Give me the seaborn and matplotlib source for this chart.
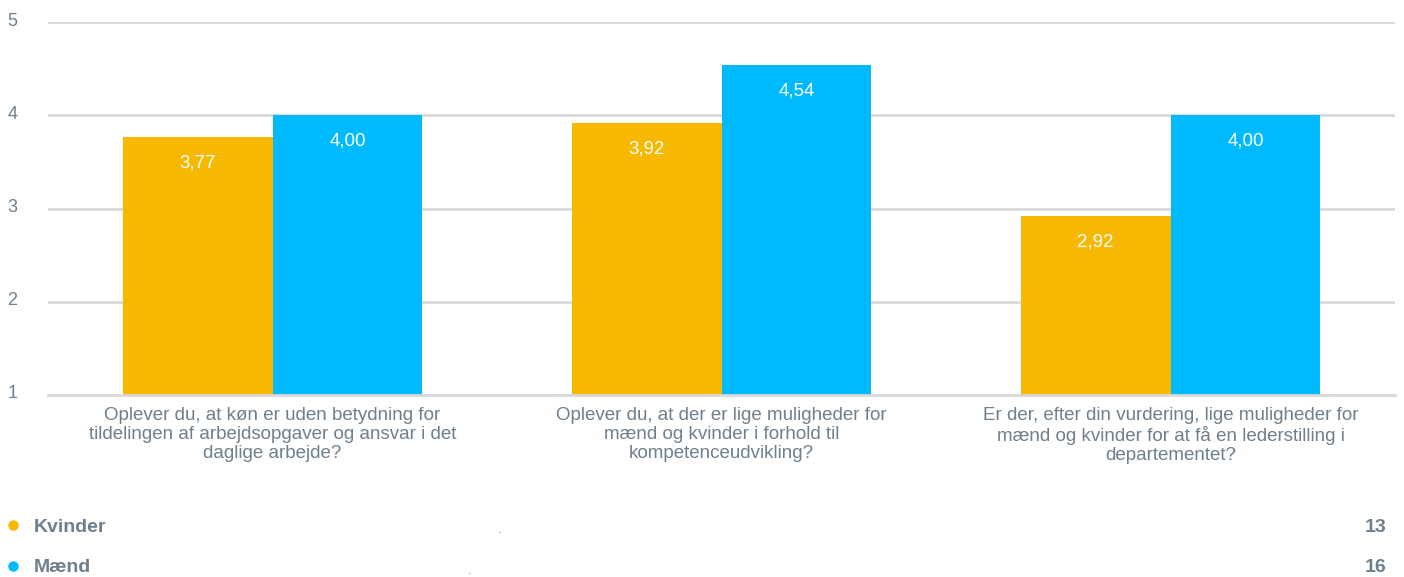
import matplotlib
matplotlib.use("Agg")
import matplotlib.pyplot as plt
import matplotlib.transforms as mtransforms
import seaborn as sns
import pandas as pd
from matplotlib.lines import Line2D

categories = [
    "Oplever du, at køn er uden betydning for\ntildelingen af arbejdsopgaver og ansvar i det\ndaglige arbejde?",
    "Oplever du, at der er lige muligheder for\nmænd og kvinder i forhold til\nkompetenceudvikling?",
    "Er der, efter din vurdering, lige muligheder for\nmænd og kvinder for at få en lederstilling i\ndepartementet?",
]
series = ["Kvinder", "Mænd"]
kvinder = [3.77, 3.92, 2.92]
maend = [4.00, 4.54, 4.00]
counts = [13, 16]
yticks = [1, 2, 3, 4, 5]
colors = ["#F7B900", "#00BAFF"]

df = pd.DataFrame({
    "cat": categories * 2,
    "group": [series[0]] * 3 + [series[1]] * 3,
    "value": kvinder + maend,
})

sns.set_theme(style="white")
plt.rcParams["font.family"] = ["Liberation Sans", "DejaVu Sans"]
text_col = "#6E7F8D"

fig = plt.figure(figsize=(14.04, 5.77), dpi=100)
ax = fig.add_axes([48 / 1404, 1 - 395 / 577, (1395 - 48) / 1404, (395 - 22) / 577])

sns.barplot(data=df, x="cat", y="value", hue="group", palette=colors,
            width=0.668, saturation=1, ax=ax, legend=False, linewidth=0,
            bottom=0)

ax.set_ylim(1, 5)
ax.set_xlim(-0.5, 2.5)
ax.set_yticks(yticks)
ax.set_yticklabels([str(t) for t in yticks], fontsize=13, color=text_col)
ax.tick_params(axis="y", length=0, pad=22)
offset = mtransforms.ScaledTranslation(0, 3 / 100, fig.dpi_scale_trans)
for lab in ax.get_yticklabels():
    lab.set_transform(lab.get_transform() + offset)

ax.set_xticks(range(len(categories)))
ax.set_xticklabels(categories, fontsize=13.5, color=text_col, linespacing=1.12)
ax.tick_params(axis="x", which="major", length=0, pad=9)
ax.set_xticks([-0.5, 0.5, 1.5, 2.5], minor=True)
ax.tick_params(axis="x", which="minor", length=8, width=1.2, color="#C9D3DC", direction="out")
ax.set_xlabel("")
ax.set_ylabel("")

ax.grid(axis="y", color="#D9D9D9", linewidth=2)
ax.set_axisbelow(True)
for s in ["top", "right", "left"]:
    ax.spines[s].set_visible(False)
ax.spines["bottom"].set_color("#D9D9D9")
ax.spines["bottom"].set_linewidth(2)

for cont in ax.containers:
    labels = [f"{v:.2f}".replace(".", ",") for v in cont.datavalues]
    ax.bar_label(cont, labels=labels, padding=-25, color="white", fontsize=13.5)

# custom legend
leg_y = [1 - 527 / 577, 1 - 568 / 577]
dot_x = [500 / 1404, 470 / 1404]
for i, name in enumerate(series):
    fig.add_artist(Line2D([13 / 1404], [1 - 525 / 577 if i == 0 else 1 - 566 / 577],
                          marker="o", markersize=6.5,
                          color=colors[i], linestyle="none", transform=fig.transFigure))
    fig.text(34 / 1404, leg_y[i], name, fontsize=14, fontweight="bold",
             color=text_col, va="center", ha="left")
    fig.text(dot_x[i], leg_y[i] - 0.006, ".", fontsize=9, color=text_col, va="center", ha="center")
    fig.text(1386 / 1404, leg_y[i], str(counts[i]), fontsize=14, fontweight="bold",
             color=text_col, va="center", ha="right")

fig.savefig("out.png", dpi=100)
